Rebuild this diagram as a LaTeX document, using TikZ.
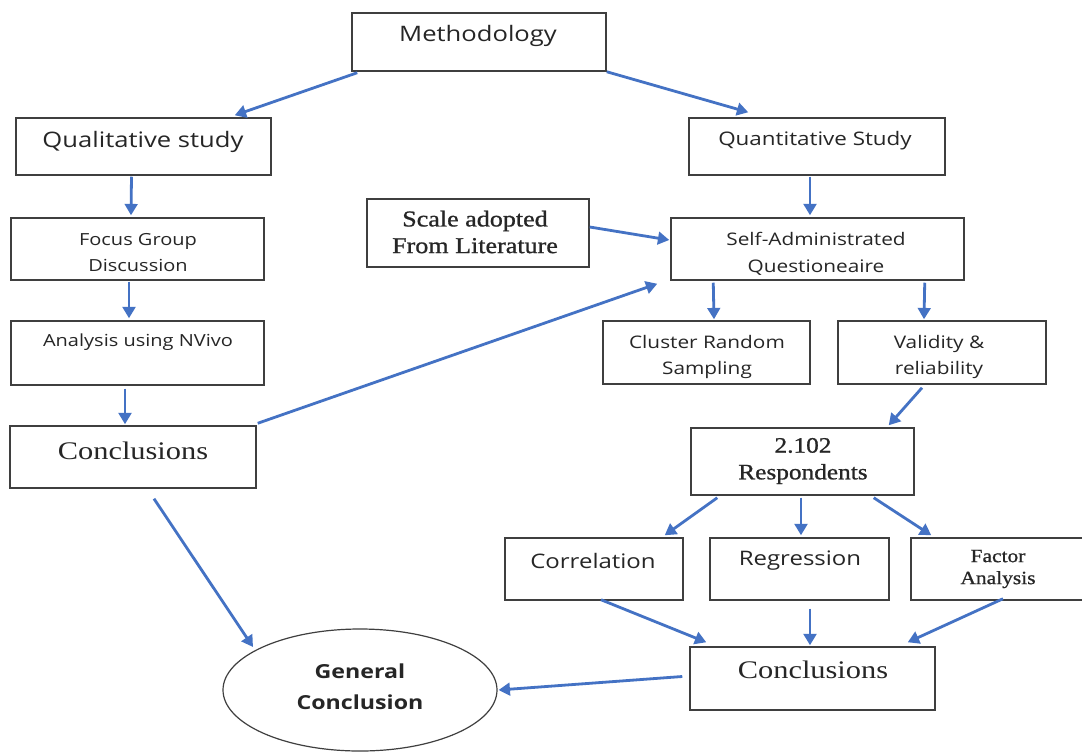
\documentclass[tikz,border=0pt]{standalone}
\usepackage{fontspec}
\usetikzlibrary{shapes.geometric,arrows.meta,calc}
\newfontfamily\sansf[FakeStretch=1.2]{Open Sans}
\newfontfamily\seriff[FakeStretch=1.2]{Liberation Serif}
\newfontfamily\serifsb[FakeStretch=1.15,FakeBold=0.9]{Liberation Serif}
\definecolor{arrowblue}{HTML}{4472C4}
\definecolor{boxline}{HTML}{3F3F3F}
\definecolor{txtc}{HTML}{262626}
\newcommand{\bx}[5]{\node[box, minimum width={(#4-#2)*0.75pt}, minimum height={(#5-#3)*0.75pt}] (#1) at ({(#2+#4)/2},{(#3+#5)/2}) {};}
\tikzset{
  box/.style={draw=boxline, line width=1.1pt, fill=white, inner sep=0pt, rectangle},
  lbl/.style={inner sep=0pt, text=txtc, align=center},
  arr/.style={draw=arrowblue, line width=2.1pt, -{Triangle[length=8.5pt,width=9.5pt]}},
}
\begin{document}
\begin{tikzpicture}[x=0.75pt,y=-0.75pt]
\clip (0,0) rectangle (1082,751);
\fill[white] (0,0) rectangle (1082,751);

% boxes
\bx{meth}{352}{13}{606}{71}
\bx{qual}{16}{118}{271}{175}
\bx{quant}{689}{118}{945}{175}
\bx{focus}{11}{218}{264}{280}
\bx{nvivo}{11}{321}{264}{385}
\bx{concl}{10}{426}{256}{488}
\bx{scale}{367}{199}{589}{267}
\bx{self}{671}{218}{964}{280}
\bx{cluster}{603}{321}{810}{384}
\bx{valid}{838}{321}{1046}{384}
\bx{resp}{691}{428}{914}{495}
\bx{corr}{505}{538}{683}{600}
\bx{regr}{710}{538}{889}{600}
\bx{fact}{911}{538}{1100}{600}
\bx{concr}{690}{647}{935}{710}
\node[ellipse, draw=boxline, line width=0.9pt, fill=white, minimum width={274*0.75pt}, minimum height={122*0.75pt}, inner sep=0pt] (gen) at (360,690) {};

% labels
\node[lbl, font=\sansf\fontsize{16}{19}\selectfont] (tmeth) at (478,36) {Methodology};
\node[lbl, font=\sansf\fontsize{16}{19}\selectfont] (tqual) at (143,142) {Qualitative study};
\node[lbl, font=\sansf\fontsize{14}{17}\selectfont] (tquant) at (815,141) {Quantitative Study};
\node[lbl, font=\sansf\fontsize{12.5}{19.5}\selectfont] (tfocus) at (138,253) {Focus Group\\Discussion};
\node[lbl, font=\sansf\fontsize{12.5}{19.5}\selectfont] (tnvivo) at (138,342) {Analysis using NVivo};
\node[lbl, font=\seriff\fontsize{19}{22}\selectfont] (tconcl) at (133,451) {Conclusions};
\node[lbl, font=\serifsb\fontsize{17}{20}\selectfont] (tscale) at (475,232) {Scale adopted\\From Literature};
\node[lbl, font=\sansf\fontsize{13}{20}\selectfont] (tself) at (816,254) {Self-Administrated\\Questioneaire};
\node[lbl, font=\sansf\fontsize{13}{20}\selectfont] (tcluster) at (707,357) {Cluster Random\\Sampling};
\node[lbl, font=\sansf\fontsize{13}{20}\selectfont] (tvalid) at (939,357) {Validity \&\\reliability};
\node[lbl, font=\serifsb\fontsize{16.5}{20}\selectfont] (tresp) at (803,461) {2.102\\Respondents};
\node[lbl, font=\sansf\fontsize{15}{18}\selectfont] (tcorr) at (593,561) {Correlation};
\node[lbl, font=\sansf\fontsize{15}{18}\selectfont] (tregr) at (800,561) {Regression};
\node[lbl, font=\serifsb\fontsize{14}{16.5}\selectfont] (tfact) at (998,569) {Factor\\Analysis};
\node[lbl, font=\seriff\fontsize{19}{22}\selectfont] (tconcr) at (813,670) {Conclusions};
\node[lbl, font=\sansf\bfseries\fontsize{14.5}{23}\selectfont] (tgen) at (360,687) {General\\Conclusion};

% connectors
\draw[arr] ($(meth.south west)+(6,1)$) -- ($(qual.north east)+(-37,-2)$);
\draw[arr] (meth.south east) -- ($(quant.north west)+(60,-5)$);
\draw[arr] ($(qual.south)+(-12,1)$) -- ($(focus.north)+(-6.5,-2)$);
\draw[arr] ($(focus.south)+(-8.5,1)$) -- ($(nvivo.north)+(-8.5,-2)$);
\draw[arr] ($(nvivo.south)+(-12.5,3)$) -- ($(concl.north)+(-8,-1)$);
\draw[arr] ($(concl.north east)+(1,-2)$) -- ($(self.south west)+(-13,3)$);
\draw[arr] ($(concl.south)+(21,10)$) -- ($(gen.center)+(-107,-43)$);
\draw[arr] ($(quant.south)+(-7,1)$) -- ($(self.north)+(-7.5,-2)$);
\draw[arr] ($(scale.east)+(0,-6)$) -- ($(self.west)+(-1,-9)$);
\draw[arr] ($(self.south west)+(43,2)$) -- ($(cluster.north)+(7.5,-1)$);
\draw[arr] ($(self.south east)+(-40,2)$) -- ($(valid.north)+(-18,-1)$);
\draw[arr] ($(valid.south)+(-20,3)$) -- ($(resp.north east)+(-26,-2)$);
\draw[arr] ($(resp.south west)+(27,2)$) -- ($(corr.north east)+(-19,-2)$);
\draw[arr] ($(resp.south)+(-1.5,2)$) -- ($(regr.north)+(1.5,-2)$);
\draw[arr] ($(resp.south east)+(-41,2)$) -- ($(fact.north west)+(21,-2)$);
\draw[arr] ($(corr.south)+(7,-1)$) -- ($(concr.north west)+(17,-4)$);
\draw[arr] ($(regr.south)+(10.5,8)$) -- ($(concr.north)+(-2.5,-1)$);
\draw[arr] ($(fact.south)+(-2.5,-2)$) -- ($(concr.north east)+(-28,-4)$);
\draw[arr] ($(concr.west)+(-7,-2)$) -- ($(gen.east)+(1,0)$);
\end{tikzpicture}
\end{document}
